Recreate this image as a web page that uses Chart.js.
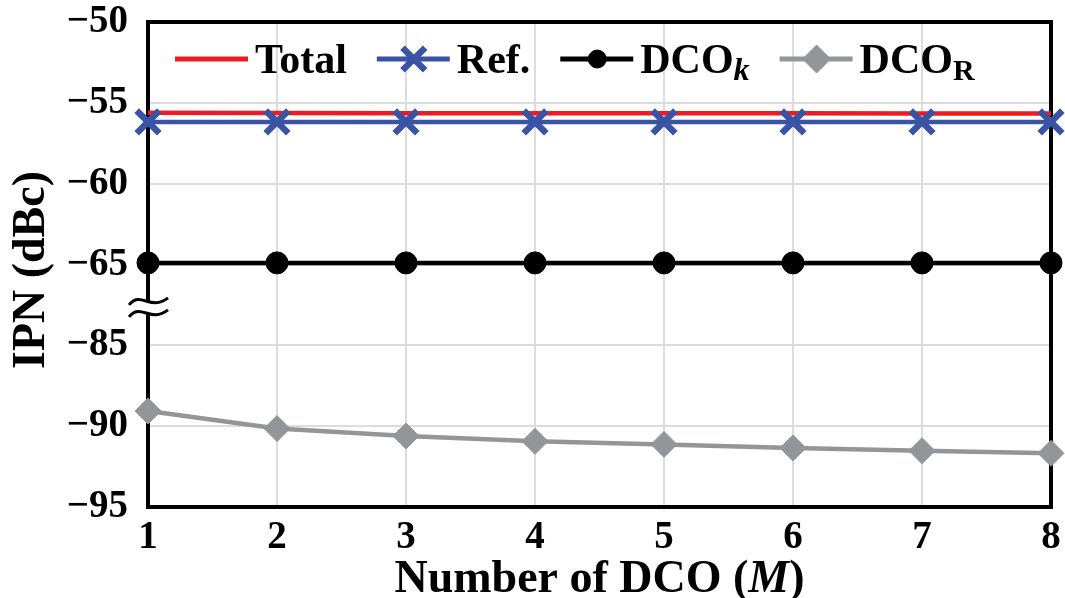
<!DOCTYPE html>
<html>
<head>
<meta charset="utf-8">
<script src="https://cdn.jsdelivr.net/npm/chart.js@4/dist/chart.umd.min.js"></script>
<style>
  html, body { margin: 0; padding: 0; background: #ffffff; }
  #wrap { width: 1065px; height: 598px; position: relative; }
</style>
</head>
<body>
<div id="wrap"><canvas id="chart" width="1065" height="598"></canvas></div>
<script>
// Number of DCOs (M)
const dcoCount = ['1', '2', '3', '4', '5', '6', '7', '8'];

// Integrated phase noise contributions, dBc
const totalIPN = [-55.62, -55.63, -55.64, -55.64, -55.65, -55.65, -55.66, -55.66];
const refIPN   = [-56.18, -56.18, -56.18, -56.18, -56.18, -56.18, -56.18, -56.18];
const dcoKIPN  = [-64.9, -64.9, -64.9, -64.9, -64.9, -64.9, -64.9, -64.9];
const dcoRIPN  = [-89.06, -90.15, -90.61, -90.94, -91.13, -91.35, -91.52, -91.68];

// Broken y axis: -85 ... -95 is drawn directly below -65
const breakAbove = -65;     // last value of the upper segment
const breakGap = 15;        // dB removed between -65 and -85
const yTicks = [-50, -55, -60, -65, -85, -90, -95];

// real dB -> position on the compressed axis
const squeeze = v => (v < breakAbove ? v + breakGap : v);
// compressed axis -> real dB
const unsqueeze = v => (v < breakAbove ? v - breakGap : v);

const SERIF = '"Liberation Serif", "Times New Roman", serif';
const COLORS = { total: '#ed1c24', ref: '#3a53a4', dcoK: '#000000', dcoR: '#939598' };

const minus = v => (v < 0 ? '\u2212' + Math.abs(v) : String(v));

// Frame, axis break, legend and axis titles
const decorations = {
  id: 'decorations',
  beforeDatasetsDraw(chart) {
    const { ctx, chartArea: a } = chart;
    ctx.save();
    ctx.strokeStyle = '#000';
    ctx.lineWidth = 4;
    ctx.strokeRect(a.left, a.top, a.right - a.left, a.bottom - a.top);

    // axis break marks midway between -65 and -85
    const ys = chart.scales.y;
    const yb = (ys.getPixelForValue(breakAbove) + ys.getPixelForValue(squeeze(yTicks[4]))) / 2 + 3;
    const x0 = a.left - 19, x1 = a.left + 20;
    const wave = (dy) => {
      ctx.moveTo(x0, yb + dy + 3);
      ctx.bezierCurveTo(x0 + 12, yb + dy - 12, x1 - 18, yb + dy + 10, x1, yb + dy - 4);
    };
    ctx.beginPath();
    wave(-6);
    ctx.lineTo(x1, yb + 2);
    ctx.bezierCurveTo(x1 - 18, yb + 16, x0 + 12, yb - 6, x0, yb + 9);
    ctx.closePath();
    ctx.fillStyle = '#fff';
    ctx.fill();
    ctx.beginPath();
    wave(-6);
    wave(6);
    ctx.lineWidth = 3;
    ctx.strokeStyle = '#000';
    ctx.stroke();
    ctx.restore();
  },
  afterDraw(chart) {
    const { ctx, chartArea: a } = chart;
    ctx.save();
    ctx.fillStyle = '#000';

    // legend inside the plot
    const ly = a.top + 37;
    const base = ly + 14;
    const mainFont = 'bold 42px ' + SERIF;
    let x = a.left + 27;
    const items = [
      { ds: 0, text: 'Total' },
      { ds: 1, text: 'Ref.' },
      { ds: 2, text: 'DCO', sub: 'k', subFont: 'italic bold 32px ' + SERIF, marker: 9 },
      { ds: 3, text: 'DCO', sub: 'R', subFont: 'bold 30px ' + SERIF, marker: 14 }
    ];
    items.forEach(it => {
      const d = chart.data.datasets[it.ds];
      ctx.strokeStyle = d.borderColor;
      ctx.lineWidth = 5;
      ctx.beginPath();
      ctx.moveTo(x, ly);
      ctx.lineTo(x + 73, ly);
      ctx.stroke();
      if (d.pointRadius > 0) {
        ctx.fillStyle = d.pointBackgroundColor;
        ctx.strokeStyle = d.pointBorderColor;
        ctx.lineWidth = d.pointBorderWidth;
        Chart.helpers.drawPoint(ctx, {
          pointStyle: d.pointStyle,
          radius: it.marker || d.pointRadius,
          rotation: 0,
          borderWidth: d.pointBorderWidth
        }, x + 37, ly);
      }
      x += 80;
      ctx.fillStyle = '#000';
      ctx.font = mainFont;
      ctx.textBaseline = 'alphabetic';
      ctx.textAlign = 'left';
      ctx.fillText(it.text, x, base);
      x += ctx.measureText(it.text).width;
      if (it.sub) {
        ctx.font = it.subFont;
        ctx.fillText(it.sub, x, base + 7);
        x += ctx.measureText(it.sub).width;
      }
      x += 30;
    });

    // x-axis title with italic M
    const parts = [
      { t: 'Number of DCO (', f: 'bold 46px ' + SERIF },
      { t: 'M', f: 'italic bold 46px ' + SERIF },
      { t: ')', f: 'bold 46px ' + SERIF }
    ];
    let w = 0;
    parts.forEach(p => { ctx.font = p.f; p.w = ctx.measureText(p.t).width; w += p.w; });
    let tx = (a.left + a.right) / 2 - w / 2;
    ctx.textBaseline = 'alphabetic';
    ctx.textAlign = 'left';
    parts.forEach(p => { ctx.font = p.f; ctx.fillText(p.t, tx, 592); tx += p.w; });

    // y-axis title
    ctx.translate(32, 270);
    ctx.rotate(-Math.PI / 2);
    ctx.font = 'bold 46px ' + SERIF;
    ctx.textAlign = 'center';
    ctx.textBaseline = 'middle';
    ctx.fillText('IPN (dBc)', 0, 0);
    ctx.restore();
  }
};

new Chart(document.getElementById('chart'), {
  type: 'line',
  data: {
    labels: dcoCount,
    datasets: [
      {
        label: 'Total', data: totalIPN, order: 1,
        borderColor: COLORS.total, backgroundColor: COLORS.total, borderWidth: 4.5,
        pointRadius: 0, pointHoverRadius: 0
      },
      {
        label: 'Ref.', data: refIPN, order: 0,
        borderColor: COLORS.ref, backgroundColor: COLORS.ref, borderWidth: 4.5,
        pointStyle: 'crossRot', pointRadius: 16, pointBorderWidth: 6.5,
        pointBorderColor: COLORS.ref, pointBackgroundColor: COLORS.ref
      },
      {
        label: 'DCOk', data: dcoKIPN.map(squeeze), order: 2,
        borderColor: COLORS.dcoK, backgroundColor: COLORS.dcoK, borderWidth: 4.5,
        pointStyle: 'circle', pointRadius: 11, pointBorderWidth: 1,
        pointBorderColor: COLORS.dcoK, pointBackgroundColor: COLORS.dcoK
      },
      {
        label: 'DCOR', data: dcoRIPN.map(squeeze), order: 3,
        borderColor: COLORS.dcoR, backgroundColor: COLORS.dcoR, borderWidth: 4.5,
        pointStyle: 'rectRot', pointRadius: 13, pointBorderWidth: 1,
        pointBorderColor: COLORS.dcoR, pointBackgroundColor: COLORS.dcoR
      }
    ]
  },
  options: {
    responsive: false,
    animation: false,
    events: [],
    layout: { autoPadding: false, padding: { left: 0, right: 14, top: 22, bottom: 0 } },
    plugins: { legend: { display: false }, tooltip: { enabled: false } },
    scales: {
      x: {
        offset: false,
        grid: { color: '#dcdcdc', lineWidth: 2, drawTicks: false },
        border: { display: false },
        ticks: { color: '#000', padding: 8, font: { family: SERIF, size: 39, weight: 'bold' } },
        afterFit(s) { s.height = 91; s.paddingLeft = 0; s.paddingRight = 0; }
      },
      y: {
        min: squeeze(yTicks[yTicks.length - 1]),
        max: yTicks[0],
        afterBuildTicks(s) { s.ticks = yTicks.map(v => ({ value: squeeze(v) })); },
        grid: { color: '#dcdcdc', lineWidth: 2, drawTicks: false },
        border: { display: false },
        ticks: {
          color: '#000', padding: 20,
          font: { family: SERIF, size: 39, weight: 'bold' },
          callback: v => minus(unsqueeze(v))
        },
        afterFit(s) { s.width = 148; s.paddingTop = 0; s.paddingBottom = 0; }
      }
    }
  },
  plugins: [decorations]
});
</script>
</body>
</html>
